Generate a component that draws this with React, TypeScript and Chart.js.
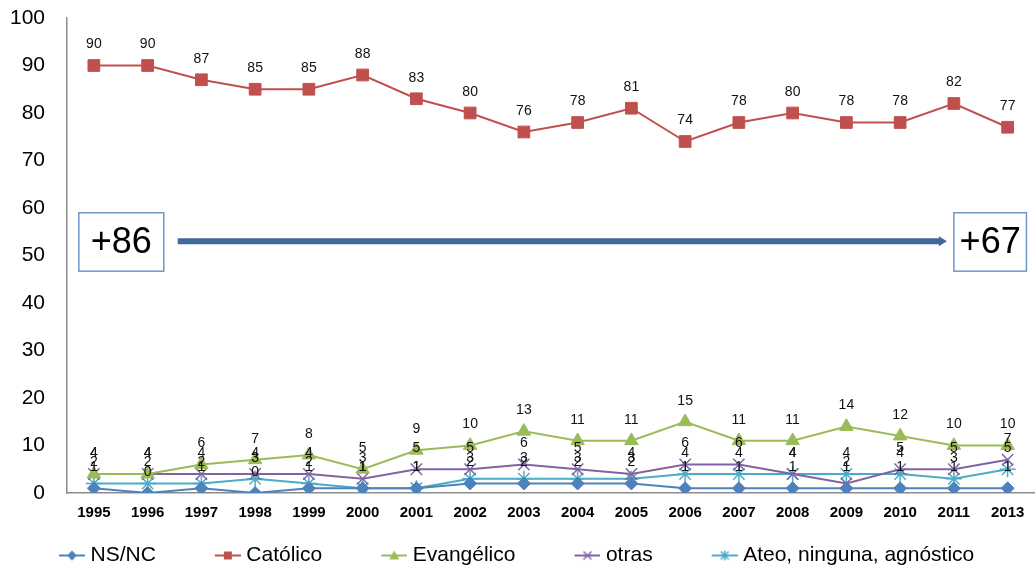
import React, { useEffect, useRef } from 'react';
import { Chart, registerables } from 'chart.js';

Chart.register(...registerables);

const FONT = "'Liberation Sans', Arial, sans-serif";

const years = ['1995', '1996', '1997', '1998', '1999', '2000', '2001', '2002', '2003', '2004', '2005', '2006', '2007', '2008', '2009', '2010', '2011', '2013'];
const nsnc = [1, 0, 1, 0, 1, 1, 1, 2, 2, 2, 2, 1, 1, 1, 1, 1, 1, 1];
const catolico = [90, 90, 87, 85, 85, 88, 83, 80, 76, 78, 81, 74, 78, 80, 78, 78, 82, 77];
const evangelico = [4, 4, 6, 7, 8, 5, 9, 10, 13, 11, 11, 15, 11, 11, 14, 12, 10, 10];
const otras = [4, 4, 4, 4, 4, 3, 5, 5, 6, 5, 4, 6, 6, 4, 2, 5, 5, 7];
const ateo = [2, 2, 2, 3, 2, 1, 1, 3, 3, 3, 3, 4, 4, 4, 4, 4, 3, 5];

const seriesNames = ['NS/NC', 'Católico', 'Evangélico', 'otras', 'Ateo, ninguna, agnóstico'];
const seriesColors = ['#4F81BD', '#C0504D', '#9BBB59', '#8064A2', '#4BACC6'];
const seriesStyles = ['rectRot', 'rect', 'triangle', 'crossRot', 'star'];
const seriesRadius = [6.5, 8.3, 7.8, 8, 8];

const yTicks = { min: 0, max: 100, step: 10 };

// Annotation: start/end values of Católico trend
const startLabel = '+86';
const endLabel = '+67';
const annotY = 53;
const boxTop = 59;
const boxBottom = 46.7;
const box1 = [-0.28, 1.3];
const box2 = [16.0, 17.35];
const arrowSpan = [1.56, 15.87];

function makeIcon(kind: string, color: string, bw: number) {
  const c = document.createElement('canvas');
  const w = bw + 10;
  const h = 18;
  c.width = w;
  c.height = h;
  const ctx = c.getContext('2d')!;
  const cx = w - 13;
  const cy = h / 2;
  ctx.strokeStyle = color;
  ctx.fillStyle = color;
  ctx.lineWidth = 2;
  ctx.beginPath();
  ctx.moveTo(w - 26, cy);
  ctx.lineTo(w, cy);
  ctx.stroke();
  const r = 5;
  ctx.beginPath();
  if (kind === 'rectRot') {
    ctx.moveTo(cx, cy - r);
    ctx.lineTo(cx + r, cy);
    ctx.lineTo(cx, cy + r);
    ctx.lineTo(cx - r, cy);
    ctx.closePath();
    ctx.fill();
  } else if (kind === 'rect') {
    ctx.rect(cx - 4, cy - 4, 8, 8);
    ctx.fill();
  } else if (kind === 'triangle') {
    ctx.moveTo(cx, cy - 5);
    ctx.lineTo(cx + 5, cy + 4);
    ctx.lineTo(cx - 5, cy + 4);
    ctx.closePath();
    ctx.fill();
  } else if (kind === 'crossRot') {
    ctx.lineWidth = 1.5;
    ctx.moveTo(cx - 4, cy - 4);
    ctx.lineTo(cx + 4, cy + 4);
    ctx.moveTo(cx + 4, cy - 4);
    ctx.lineTo(cx - 4, cy + 4);
    ctx.stroke();
  } else {
    ctx.lineWidth = 1.5;
    ctx.moveTo(cx - 4, cy - 4);
    ctx.lineTo(cx + 4, cy + 4);
    ctx.moveTo(cx + 4, cy - 4);
    ctx.lineTo(cx - 4, cy + 4);
    ctx.moveTo(cx, cy - 5);
    ctx.lineTo(cx, cy + 5);
    ctx.stroke();
  }
  return c;
}

const valueLabelPlugin = {
  id: 'valueLabels',
  afterDatasetsDraw(chart: any) {
    const ctx = chart.ctx;
    ctx.save();
    ctx.font = `14px ${FONT}`;
    ctx.fillStyle = '#111';
    ctx.textAlign = 'center';
    ctx.textBaseline = 'middle';
    chart.data.datasets.forEach((ds: any, di: number) => {
      const meta = chart.getDatasetMeta(di);
      meta.data.forEach((pt: any, i: number) => {
        ctx.fillText(String(ds.data[i]), pt.x, pt.y - 21);
      });
    });
    ctx.restore();
  },
};

const annotationPlugin = {
  id: 'trendAnnotation',
  afterDatasetsDraw(chart: any) {
    const ctx = chart.ctx;
    const xs = chart.scales.x;
    const ys = chart.scales.y;
    const yMid = ys.getPixelForValue(annotY);
    const yT = ys.getPixelForValue(boxTop);
    const yB = ys.getPixelForValue(boxBottom);
    ctx.save();
    const ax0 = xs.getPixelForValue(arrowSpan[0]);
    const ax1 = xs.getPixelForValue(arrowSpan[1]);
    ctx.strokeStyle = '#41689C';
    ctx.fillStyle = '#41689C';
    ctx.lineWidth = 6;
    ctx.beginPath();
    ctx.moveTo(ax0, yMid);
    ctx.lineTo(ax1 - 6, yMid);
    ctx.stroke();
    ctx.beginPath();
    ctx.moveTo(ax1, yMid);
    ctx.lineTo(ax1 - 8, yMid - 5);
    ctx.lineTo(ax1 - 8, yMid + 5);
    ctx.closePath();
    ctx.fill();
    const drawBox = (span: number[], text: string) => {
      const x0 = xs.getPixelForValue(span[0]);
      const x1 = xs.getPixelForValue(span[1]);
      ctx.fillStyle = '#ffffff';
      ctx.fillRect(x0, yT, x1 - x0, yB - yT);
      ctx.strokeStyle = '#6E98CE';
      ctx.lineWidth = 1.5;
      ctx.strokeRect(x0, yT, x1 - x0, yB - yT);
      ctx.fillStyle = '#000';
      ctx.font = `36px ${FONT}`;
      ctx.textAlign = 'center';
      ctx.textBaseline = 'middle';
      ctx.fillText(text, (x0 + x1) / 2, (yT + yB) / 2 + 1);
    };
    drawBox(box1, startLabel);
    drawBox(box2, endLabel);
    ctx.restore();
  },
};

export default function App() {
  const ref = useRef<HTMLCanvasElement>(null);
  useEffect(() => {
    if (!ref.current) return;
    Chart.defaults.font.family = FONT;
    const bw = 70;
    const icons = seriesStyles.map((s, i) => makeIcon(s, seriesColors[i], bw));
    const values = [nsnc, catolico, evangelico, otras, ateo];
    const chart = new Chart(ref.current, {
      type: 'line',
      data: {
        labels: years,
        datasets: values.map((v, i) => ({
          label: seriesNames[i],
          data: v,
          borderColor: seriesColors[i],
          backgroundColor: seriesColors[i],
          pointBackgroundColor: seriesColors[i],
          pointBorderColor: seriesColors[i],
          pointStyle: seriesStyles[i] as any,
          pointRadius: seriesRadius[i],
          pointBorderWidth: i === 3 || i === 4 ? 1.5 : 1,
          borderWidth: 2,
          tension: 0,
          fill: false,
        })),
      },
      options: {
        responsive: false,
        animation: false,
        layout: { padding: { left: 0, right: 5, top: 18, bottom: 0 } },
        scales: {
          x: {
            type: 'category',
            offset: true,
            grid: { display: false, drawTicks: false },
            border: { display: true, color: '#8c8c8c', width: 1.5 },
            ticks: {
              font: { family: FONT, size: 15, weight: 'bold' },
              color: '#000',
              padding: 11,
              maxRotation: 0,
              autoSkip: false,
            },
            afterFit: (s: any) => {
              s.height = 42;
            },
          },
          y: {
            min: yTicks.min,
            max: yTicks.max,
            ticks: { stepSize: yTicks.step, font: { family: FONT, size: 21 }, color: '#000', padding: 22 },
            grid: { display: false, drawTicks: false },
            border: { display: true, color: '#8c8c8c', width: 1.5 },
            afterFit: (s: any) => {
              s.width = 67;
              s.paddingTop = 0;
              s.paddingBottom = 0;
            },
          },
        },
        plugins: {
          legend: {
            position: 'bottom',
            align: 'start',
            maxHeight: 38,
            labels: {
              usePointStyle: true,
              pointStyleWidth: bw,
              padding: 10,
              font: { family: FONT, size: 21 },
              color: '#000',
              generateLabels: (c: any) => {
                const items = (Chart.defaults.plugins.legend.labels as any).generateLabels(c);
                items.forEach((it: any, i: number) => {
                  it.pointStyle = icons[i];
                  it.fontColor = '#000';
                });
                return items;
              },
            },
          },
          tooltip: { enabled: false },
        },
      } as any,
      plugins: [valueLabelPlugin, annotationPlugin],
    });
    return () => chart.destroy();
  }, []);

  return (
    <div style={{ position: 'fixed', left: 0, top: 0, width: 1036, height: 573, overflow: 'hidden', background: '#fff' }}>
      <canvas ref={ref} width={1044} height={573} style={{ display: 'block', width: 1044, height: 573 }} />
    </div>
  );
}
